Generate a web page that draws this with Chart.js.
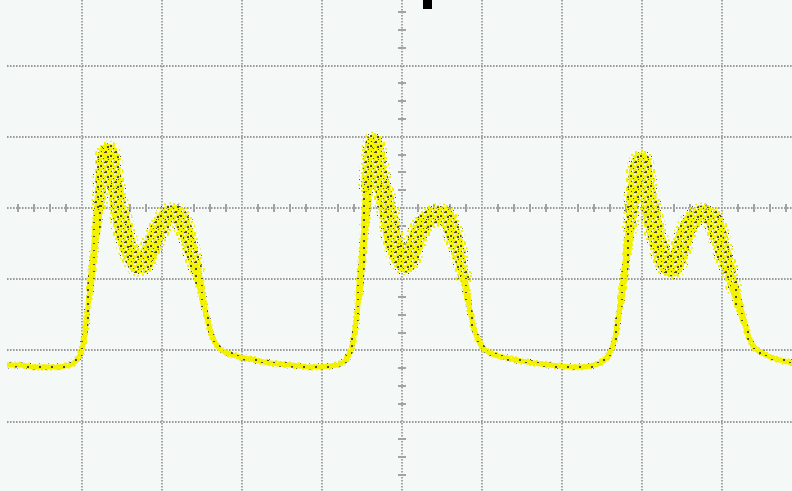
<!DOCTYPE html>
<html>
<head>
<meta charset="utf-8">
<script src="https://cdn.jsdelivr.net/npm/chart.js@4.4.1/dist/chart.umd.min.js"></script>
<style>
  html, body { margin: 0; padding: 0; background: #f4f8f6; }
  canvas { display: block; }
</style>
</head>
<body>
<canvas id="scope" width="792" height="491"></canvas>
<script>
// Captured trace, in screen divisions (origin at the screen centre).
const timeDiv = [
  // first pulse
  -4.94, -4.775, -4.588, -4.4, -4.213, -4.125, -4.063, -4.013,
  -3.975, -3.938, -3.9, -3.863, -3.825, -3.788, -3.75, -3.713,
  -3.675, -3.638, -3.6, -3.563, -3.525, -3.475, -3.425, -3.363,
  -3.3, -3.238, -3.175, -3.113, -3.05, -2.975, -2.9, -2.825,
  -2.763, -2.7, -2.638, -2.575, -2.525, -2.475, -2.425, -2.363,
  -2.288, -2.188, -2.025, -1.838, -1.65, -1.4, -1.113, -0.9, -0.775,
  // second pulse
  -0.7, -0.65, -0.613, -0.575, -0.538, -0.5, -0.463, -0.425,
  -0.388, -0.35, -0.313, -0.275, -0.225, -0.175, -0.125, -0.063,
  0, 0.063, 0.125, 0.188, 0.263, 0.35, 0.438, 0.513,
  0.588, 0.65, 0.713, 0.775, 0.825, 0.888, 0.95, 1.038,
  1.163, 1.313, 1.563, 1.85, 2.138, 2.35,
  // third pulse
  2.475, 2.563, 2.613, 2.663, 2.7, 2.738, 2.775, 2.813,
  2.85, 2.888, 2.925, 2.975, 3.013, 3.05, 3.088, 3.138,
  3.2, 3.263, 3.325, 3.388, 3.45, 3.513, 3.588, 3.663,
  3.75, 3.825, 3.9, 3.963, 4.025, 4.088, 4.15, 4.213,
  4.275, 4.338, 4.4, 4.475, 4.575, 4.725, 4.875
];

const levelDiv = [
  // first pulse
  -2.205, -2.205, -2.233, -2.233, -2.219, -2.191, -2.135, -2.037,
  -1.854, -1.503, -1.152, -0.758, -0.337, 0.042, 0.393, 0.646,
  0.787, 0.674, 0.393, 0.14, -0.07, -0.337, -0.548, -0.702,
  -0.801, -0.787, -0.66, -0.478, -0.323, -0.169, -0.084, -0.084,
  -0.169, -0.351, -0.59, -0.843, -1.081, -1.362, -1.601, -1.826,
  -1.966, -2.037, -2.093, -2.135, -2.177, -2.205, -2.233, -2.219, -2.191,
  // second pulse
  -2.135, -2.022, -1.882, -1.601, -1.222, -0.758, -0.239, 0.323,
  0.744, 0.927, 0.744, 0.463, 0.183, -0.056, -0.379, -0.618,
  -0.758, -0.787, -0.618, -0.407, -0.225, -0.14, -0.098, -0.098,
  -0.197, -0.407, -0.66, -0.983, -1.292, -1.643, -1.854, -1.994,
  -2.065, -2.107, -2.163, -2.205, -2.233, -2.219,
  // third pulse
  -2.177, -2.093, -1.994, -1.826, -1.573, -1.292, -0.969, -0.632,
  -0.281, 0.112, 0.463, 0.674, 0.646, 0.393, 0.112, -0.197,
  -0.478, -0.702, -0.829, -0.843, -0.688, -0.449, -0.239, -0.14,
  -0.084, -0.112, -0.169, -0.421, -0.66, -0.871, -1.124, -1.362,
  -1.601, -1.812, -1.952, -2.022, -2.079, -2.135, -2.177
];

// Half-width of the noise band around each sample, in divisions.
const noiseDiv = [
  // first pulse
  0.042, 0.042, 0.042, 0.042, 0.042, 0.042, 0.042, 0.042,
  0.042, 0.042, 0.042, 0.056, 0.056, 0.07, 0.084, 0.112,
  0.14, 0.126, 0.126, 0.126, 0.126, 0.14, 0.14, 0.14,
  0.14, 0.14, 0.14, 0.14, 0.14, 0.14, 0.14, 0.14,
  0.126, 0.112, 0.098, 0.07, 0.056, 0.042, 0.042, 0.042,
  0.042, 0.042, 0.042, 0.042, 0.042, 0.042, 0.042, 0.042, 0.042,
  // second pulse
  0.042, 0.042, 0.042, 0.042, 0.042, 0.056, 0.056, 0.07,
  0.112, 0.126, 0.126, 0.126, 0.126, 0.14, 0.14, 0.14,
  0.14, 0.14, 0.14, 0.14, 0.14, 0.14, 0.14, 0.14,
  0.126, 0.112, 0.084, 0.056, 0.042, 0.042, 0.042, 0.042,
  0.042, 0.042, 0.042, 0.042, 0.042, 0.042,
  // third pulse
  0.042, 0.042, 0.042, 0.042, 0.042, 0.042, 0.056, 0.056,
  0.07, 0.084, 0.112, 0.126, 0.126, 0.126, 0.126, 0.14,
  0.14, 0.14, 0.14, 0.14, 0.14, 0.14, 0.14, 0.14,
  0.14, 0.14, 0.14, 0.126, 0.112, 0.084, 0.07, 0.056,
  0.042, 0.042, 0.042, 0.042, 0.042, 0.042, 0.042
];

// Graticule: major divisions and the trigger marker position.
const xMajor = [-4, -3, -2, -1, 0, 1, 2, 3, 4];
const yMajor = [-3, -2, -1, 0, 1, 2];
const xMinorStep = 0.2;
const yMinorStep = 0.25;
const triggerDiv = 0.32;

const BG = '#f4f8f6';
const GRID = '#9b9b9b';
const TRACE_YELLOW = '#f1f100';
const TRACE_DARK = '#4e4e2c';

// Speckled fills that imitate a dot-mode phosphor trace.
function speckle(w, h, base, holes, yellowDots, darkDots) {
  const c = document.createElement('canvas');
  c.width = w; c.height = h;
  const g = c.getContext('2d');
  if (base) { g.fillStyle = base; g.fillRect(0, 0, w, h); }
  holes.forEach(([x, y, dw, dh]) => g.clearRect(x, y, dw || 1, dh || 1));
  g.fillStyle = TRACE_YELLOW;
  yellowDots.forEach(([x, y, dw, dh]) => g.fillRect(x, y, dw || 2, dh || 2));
  g.fillStyle = TRACE_DARK;
  darkDots.forEach(([x, y, dw, dh]) => g.fillRect(x, y, dw || 2, dh || 2));
  return g.createPattern(c, 'repeat');
}
// quiet stretches: an almost solid band
const quietPattern = speckle(12, 7, TRACE_YELLOW, [[7, 0], [1, 5]], [], [[3, 2], [9, 5, 2, 1]]);
// noisy stretches: yellow with dark and empty specks
const noisyPattern = speckle(10, 10, TRACE_YELLOW,
  [[2, 0, 1, 2], [7, 1, 2, 1], [0, 3, 2, 1], [4, 4, 2, 1], [9, 5, 1, 2], [2, 7, 2, 1], [6, 8, 1, 2], [8, 3], [5, 9, 1, 1]],
  [],
  [[5, 1], [0, 5], [7, 6], [3, 8, 1, 1], [4, 2, 1, 1], [1, 1, 1, 1], [8, 9, 1, 1]]);
// loose dots scattered around the band's edge
const haloPattern = speckle(9, 9, null, [],
  [[1, 1], [5, 0], [7, 4], [2, 5], [5, 7]],
  [[8, 8, 1, 1], [3, 3, 1, 1]]);

const tracePoints = timeDiv.map((t, i) => ({ x: t, y: levelDiv[i] }));

function pxPerDiv(chart) {
  const s = chart.scales.y;
  return Math.abs(s.getPixelForValue(0) - s.getPixelForValue(1));
}
function segNoise(ctx) {
  return Math.max(noiseDiv[ctx.p0DataIndex], noiseDiv[ctx.p1DataIndex]);
}
function coreWidth(ctx) {
  return 1.7 * segNoise(ctx) * pxPerDiv(ctx.chart);
}

const scopeFace = {
  id: 'scopeFace',
  beforeDraw(chart) {
    const { ctx, width, height } = chart;
    ctx.save();
    ctx.fillStyle = BG;
    ctx.fillRect(0, 0, width, height);
    ctx.restore();
  },
  beforeDatasetsDraw(chart) {
    const { ctx, chartArea: a, scales: { x, y } } = chart;
    ctx.save();
    ctx.strokeStyle = GRID;
    ctx.lineWidth = 1.8;
    ctx.setLineDash([1.6, 1.4]);
    xMajor.forEach(v => {
      const px = Math.round(x.getPixelForValue(v));
      ctx.beginPath(); ctx.moveTo(px, a.top); ctx.lineTo(px, a.bottom); ctx.stroke();
    });
    yMajor.forEach(v => {
      const py = Math.round(y.getPixelForValue(v));
      ctx.beginPath(); ctx.moveTo(a.left, py); ctx.lineTo(a.right, py); ctx.stroke();
    });
    // minor ticks on the centre axes
    ctx.setLineDash([]);
    ctx.lineWidth = 2;
    ctx.strokeStyle = '#a3a3a3';
    const cy = Math.round(y.getPixelForValue(0));
    for (let v = Math.ceil(x.min / xMinorStep) * xMinorStep; v <= x.max; v += xMinorStep) {
      if (Math.abs(v - Math.round(v)) < 1e-6) continue;
      const px = Math.round(x.getPixelForValue(v));
      ctx.beginPath(); ctx.moveTo(px, cy - 4); ctx.lineTo(px, cy + 4); ctx.stroke();
    }
    const cx = Math.round(x.getPixelForValue(0));
    for (let v = Math.ceil(y.min / yMinorStep) * yMinorStep; v <= y.max; v += yMinorStep) {
      if (Math.abs(v - Math.round(v)) < 1e-6) continue;
      const py = Math.round(y.getPixelForValue(v));
      ctx.beginPath(); ctx.moveTo(cx - 4, py); ctx.lineTo(cx + 4, py); ctx.stroke();
    }
    ctx.restore();
  },
  afterDraw(chart) {
    const { ctx, chartArea: a, scales: { x } } = chart;
    const px = x.getPixelForValue(triggerDiv);
    ctx.save();
    ctx.fillStyle = '#000';
    ctx.fillRect(Math.round(px - 4.5), a.top, 9, 9);
    ctx.restore();
  }
};

const traceStyle = {
  borderCapStyle: 'round',
  borderJoinStyle: 'round',
  pointRadius: 0,
  cubicInterpolationMode: 'monotone',
  fill: false
};

new Chart(document.getElementById('scope'), {
  type: 'line',
  data: {
    datasets: [{
      ...traceStyle,
      data: tracePoints,
      order: 0,
      borderColor: quietPattern,
      borderWidth: 6,
      segment: {
        borderWidth: ctx => Math.max(5, coreWidth(ctx)),
        borderColor: ctx => segNoise(ctx) > 0.08 ? noisyPattern : quietPattern
      }
    }, {
      ...traceStyle,
      data: tracePoints,
      order: 1,
      borderColor: haloPattern,
      borderWidth: 8,
      segment: {
        borderWidth: ctx => Math.max(5, coreWidth(ctx)) + (segNoise(ctx) > 0.08 ? 6 : 2)
      }
    }]
  },
  options: {
    responsive: false,
    animation: false,
    layout: { padding: { left: 7, right: 0, top: 0, bottom: 0 } },
    plugins: { legend: { display: false }, tooltip: { enabled: false } },
    scales: {
      x: { type: 'linear', min: -4.9375, max: 4.875, display: false },
      y: { type: 'linear', min: -3.975, max: 2.921, display: false }
    }
  },
  plugins: [scopeFace]
});
</script>
</body>
</html>
